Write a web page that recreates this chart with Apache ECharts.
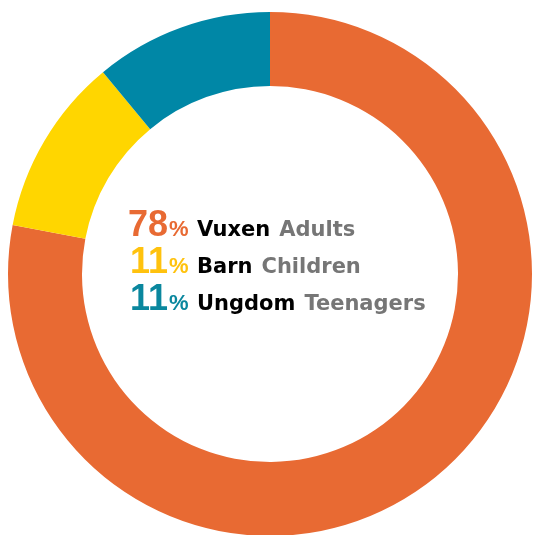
<!DOCTYPE html>
<html><head><meta charset="utf-8">
<script src="https://cdn.jsdelivr.net/npm/echarts@6/dist/echarts.min.js"></script>
<style>html,body{margin:0;padding:0;background:#fff}#c{width:534px;height:535px}</style>
</head><body><div id="c"></div>
<script>
const categories = ['Vuxen', 'Barn', 'Ungdom'];
const englishNames = ['Adults', 'Children', 'Teenagers'];
const values = [78, 11, 11];
const colors = ['#E86A33', '#FFD600', '#0087A6'];
const textColors = ['#E86A33', '#FFC20E', '#0A879E'];

const chart = echarts.init(document.getElementById('c'));
const numFont = '"Liberation Sans", Arial, sans-serif';
const wordFont = '"DejaVu Sans", sans-serif';
const baseY = 237, lineH = 37;
const numSize = 36, pctSize = 22, wordSize = 21;
const graphics = [];
categories.forEach((c, i) => {
  const b = baseY + i * lineH;
  graphics.push({
    type: 'text', x: 168, y: b - 0.31 * numSize,
    style: { text: String(values[i]), align: 'right', verticalAlign: 'middle',
      fontFamily: numFont, fontWeight: 'bold', fontSize: numSize, fill: textColors[i] }
  });
  graphics.push({
    type: 'text', x: 169, y: b - 0.31 * pctSize,
    style: { text: '%', align: 'left', verticalAlign: 'middle',
      fontFamily: numFont, fontWeight: 'bold', fontSize: pctSize, fill: textColors[i] }
  });
  graphics.push({
    type: 'text', x: 197, y: b - 0.33 * wordSize,
    style: {
      text: '{s|' + c + '}{e|' + englishNames[i] + '}',
      align: 'left', verticalAlign: 'middle',
      rich: {
        s: { fontFamily: wordFont, fontWeight: 'bold', fontSize: wordSize, fill: '#000', padding: [0, 9, 0, 0] },
        e: { fontFamily: wordFont, fontWeight: 'bold', fontSize: wordSize, fill: '#767676' }
      }
    }
  });
});

chart.setOption({
  animation: false,
  series: [{
    type: 'pie',
    center: [270, 274],
    radius: [188, 262],
    startAngle: 90,
    clockwise: true,
    label: { show: false },
    labelLine: { show: false },
    emphasis: { disabled: true },
    itemStyle: { borderWidth: 0 },
    data: categories.map((c, i) => ({ name: c, value: values[i], itemStyle: { color: colors[i] } }))
  }],
  graphic: graphics
});
</script></body></html>
